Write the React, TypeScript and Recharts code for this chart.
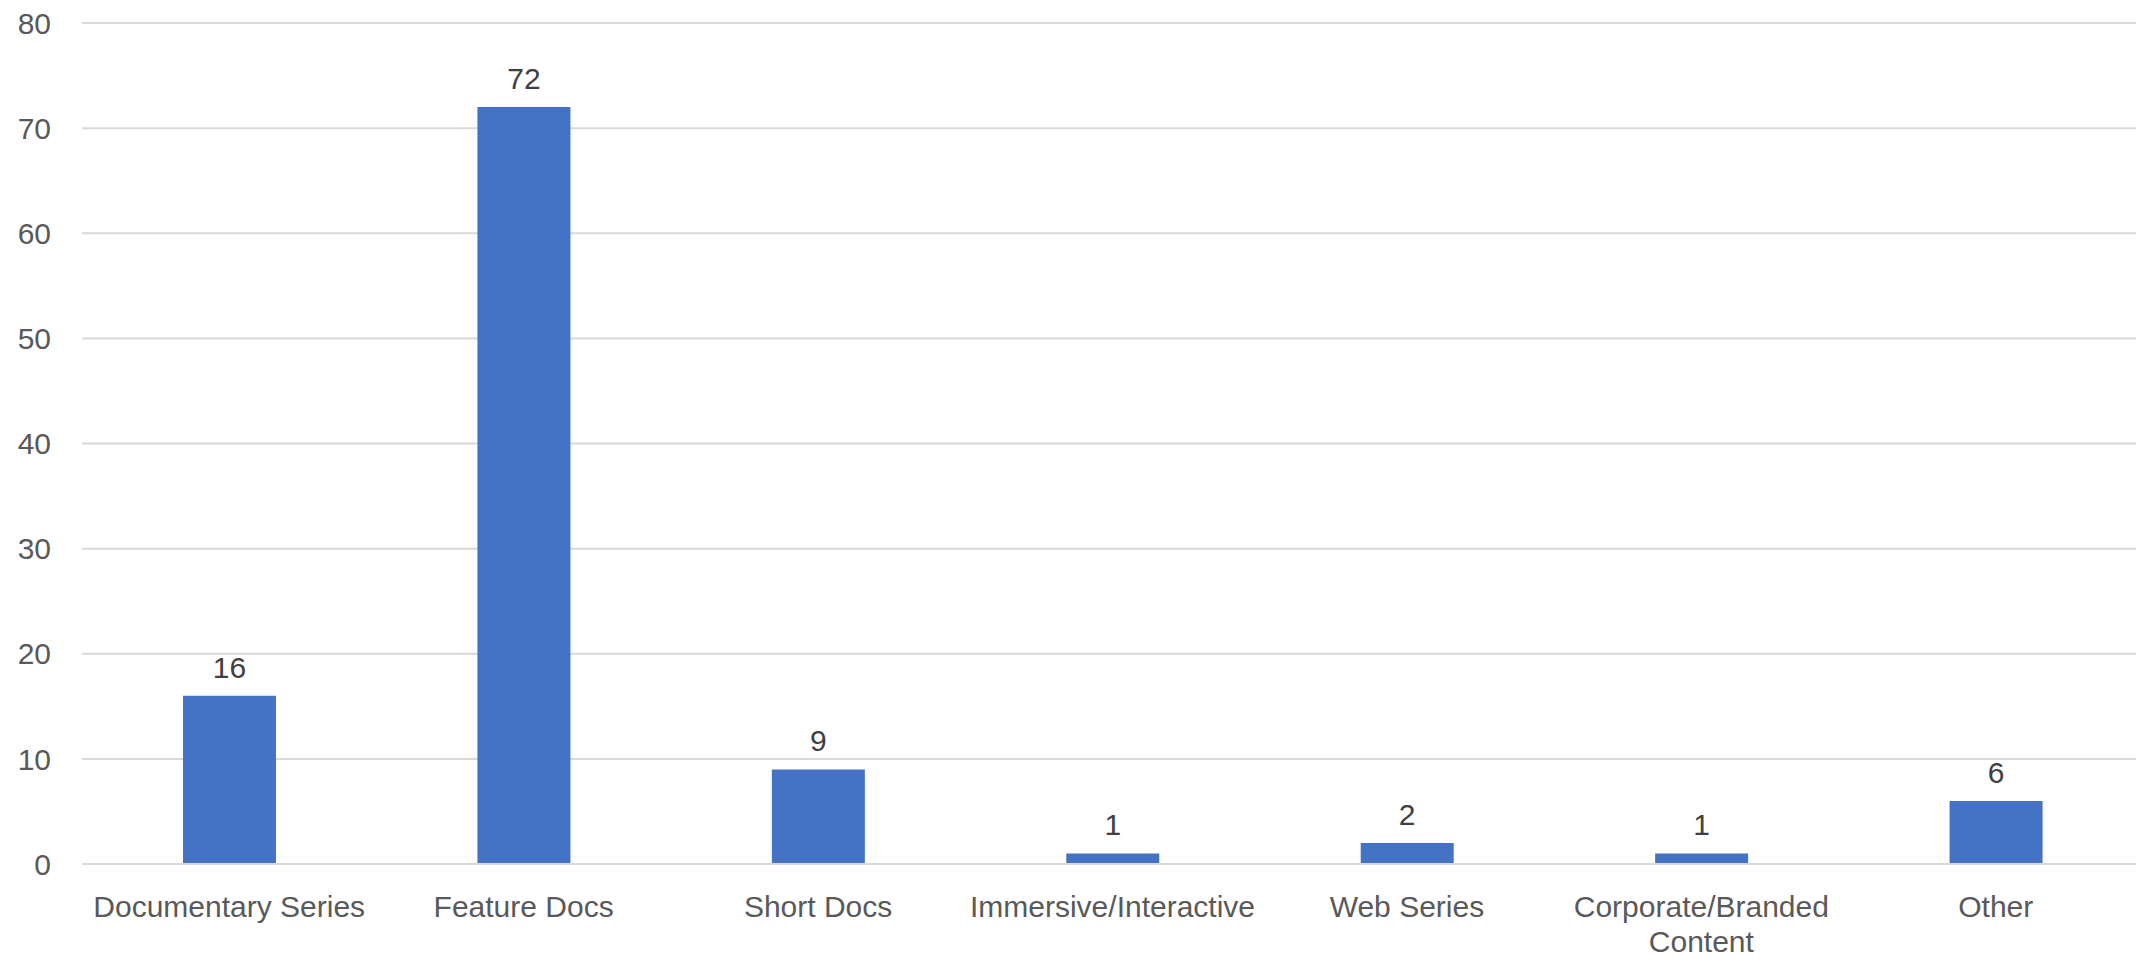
import { BarChart, Bar, XAxis, YAxis, CartesianGrid, LabelList } from "recharts";

const categories = [
  "Documentary Series",
  "Feature Docs",
  "Short Docs",
  "Immersive/Interactive",
  "Web Series",
  "Corporate/Branded Content",
  "Other",
];
const counts = [16, 72, 9, 1, 2, 1, 6];
const yTicks = [0, 10, 20, 30, 40, 50, 60, 70, 80];

const data = categories.map((name, i) => ({ name, count: counts[i] }));

const FONT = "'Liberation Sans', Arial, sans-serif";

// rough greedy word wrap (approx. 0.5em per character)
function wrap(label: string, maxWidth: number, fontSize: number) {
  const words = label.split(" ");
  const lines: string[] = [];
  let cur = "";
  for (const w of words) {
    const next = cur ? cur + " " + w : w;
    if (cur && next.length * fontSize * 0.5 > maxWidth) {
      lines.push(cur);
      cur = w;
    } else {
      cur = next;
    }
  }
  if (cur) lines.push(cur);
  return lines;
}

const CategoryTick = ({ x, y, payload }: any) => {
  const lines = wrap(String(payload.value), 285, 30);
  return (
    <text x={x} y={y + 53} textAnchor="middle" fill="#595959" fontSize={30} fontFamily={FONT}>
      {lines.map((l, i) => (
        <tspan key={i} x={x} dy={i === 0 ? 0 : 35}>
          {l}
        </tspan>
      ))}
    </text>
  );
};

export default function App() {
  return (
    <div style={{ position: "absolute", left: 0, top: 0, width: 2136, height: 959, overflow: "hidden", background: "#fff" }}>
      <BarChart width={2143} height={959} data={data} margin={{ top: 23, right: 0, left: 0, bottom: 0 }}>
        <CartesianGrid vertical={false} stroke="#d9d9d9" strokeWidth={2} />
        <XAxis
          dataKey="name"
          height={95}
          interval={0}
          tickLine={false}
          tickSize={0}
          tickMargin={0}
          axisLine={{ stroke: "#d9d9d9", strokeWidth: 2 }}
          tick={<CategoryTick />}
        />
        <YAxis
          domain={[0, 80]}
          ticks={yTicks}
          width={82}
          axisLine={false}
          tickLine={false}
          tickSize={0}
          tickMargin={31}
          tick={{ fill: "#595959", fontSize: 30, fontFamily: FONT }}
        />
        <Bar dataKey="count" fill="#4472C4" barSize={93} isAnimationActive={false}>
          <LabelList dataKey="count" position="top" offset={18} fill="#404040" fontSize={30} fontFamily={FONT} />
        </Bar>
      </BarChart>
    </div>
  );
}
